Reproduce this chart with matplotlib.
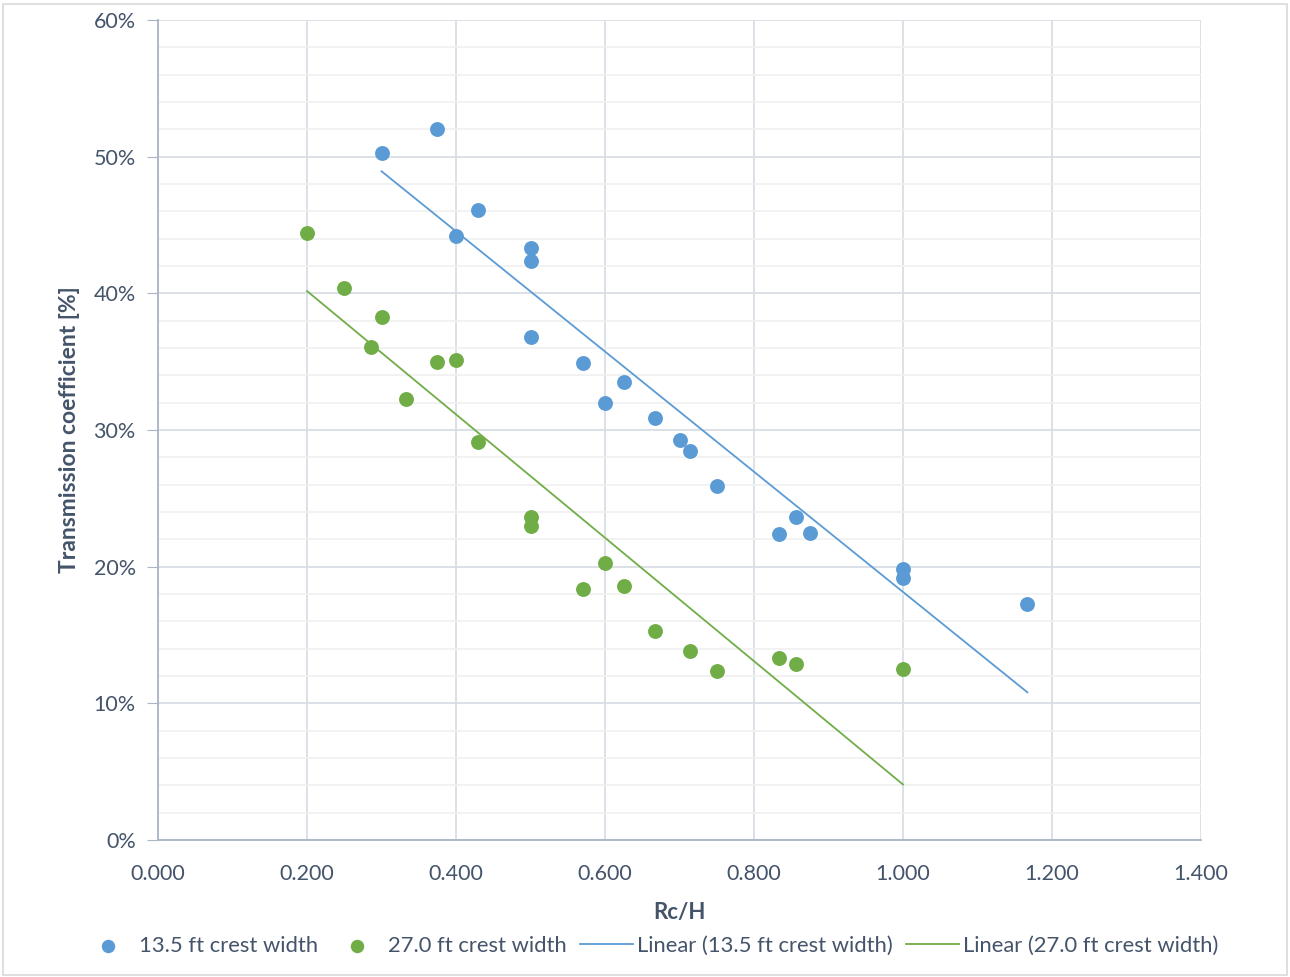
import numpy as np
import matplotlib
matplotlib.use("Agg")
import matplotlib.pyplot as plt
from matplotlib.ticker import MultipleLocator, FuncFormatter

plt.rcParams["font.family"] = ["Lato", "DejaVu Sans"]

# --- data ---
rc_h_135 = [0.300, 0.375, 0.429, 0.400, 0.500, 0.500, 0.500, 0.571, 0.625, 0.600,
            0.667, 0.700, 0.714, 0.750, 0.833, 0.857, 0.875, 1.000, 1.000, 1.167]
kt_135 = [50.3, 52.0, 46.1, 44.2, 43.3, 42.4, 36.8, 34.9, 33.5, 32.0,
          30.9, 29.3, 28.5, 25.9, 22.4, 23.6, 22.5, 19.8, 19.2, 17.3]

rc_h_270 = [0.200, 0.250, 0.300, 0.286, 0.375, 0.400, 0.333, 0.429, 0.500, 0.500,
            0.600, 0.571, 0.625, 0.667, 0.714, 0.750, 0.833, 0.857, 1.000]
kt_270 = [44.4, 40.4, 38.3, 36.1, 35.0, 35.1, 32.3, 29.1, 23.6, 23.0,
          20.3, 18.4, 18.6, 15.3, 13.8, 12.4, 13.3, 12.9, 12.5]

BLUE = "#5B9BD5"
GREEN = "#70AD47"
TEXT = "#44546A"

fig = plt.figure(figsize=(12.9, 9.77), dpi=100)
ax = fig.add_axes([0.1225, 0.1402, 0.8085, 0.8393])

series = [
    (rc_h_135, kt_135, BLUE, "13.5 ft crest width"),
    (rc_h_270, kt_270, GREEN, "27.0 ft crest width"),
]
handles_pts, handles_fit = [], []
for x, y, c, lab in series:
    x = np.array(x)
    y = np.array(y)
    h = ax.scatter(x, y, s=115, color=c, zorder=3, label=lab, linewidths=0)
    handles_pts.append(h)
    # Excel-style linear trendline
    k, b = np.polyfit(x, y, 1)
    xs = np.array([x.min(), x.max()])
    (ln,) = ax.plot(xs, k * xs + b, color=c, lw=1.3, zorder=2, label=f"Linear ({lab})")
    handles_fit.append(ln)

ax.set_xlim(0, 1.4)
ax.set_ylim(0, 60)
ax.xaxis.set_major_locator(MultipleLocator(0.2))
ax.yaxis.set_major_locator(MultipleLocator(10))
ax.yaxis.set_minor_locator(MultipleLocator(2))
ax.xaxis.set_major_formatter(FuncFormatter(lambda v, p: f"{v:.3f}"))
ax.yaxis.set_major_formatter(FuncFormatter(lambda v, p: f"{v:.0f}%"))

ax.grid(which="major", color="#D9DEE6", lw=1.3)
ax.grid(which="minor", axis="y", color="#F0F0F0", lw=1.2)
ax.set_axisbelow(True)
for s in ["top", "right"]:
    ax.spines[s].set_visible(False)
for s in ["left", "bottom"]:
    ax.spines[s].set_color("#A9B4C6")
    ax.spines[s].set_linewidth(1.3)
ax.tick_params(axis="y", which="major", length=8, color="#A9B4C6", labelsize=15.5,
               labelcolor=TEXT, pad=8)
ax.tick_params(axis="y", which="minor", length=0)
ax.tick_params(axis="x", length=0, labelsize=15.5, labelcolor=TEXT, pad=17)

ax.set_xlabel("Rc/H", fontsize=16, fontweight="bold", color=TEXT, labelpad=13)
ax.set_ylabel("Transmission coefficient [%]", fontsize=16.5, fontweight="bold",
              color=TEXT, labelpad=10)

fig.legend(handles=handles_pts + handles_fit,
           labels=[h.get_label() for h in handles_pts + handles_fit],
           loc="center", bbox_to_anchor=(0.504, 0.032), ncol=4, frameon=False,
           fontsize=15.8, labelcolor=TEXT, handlelength=2.4, handletextpad=0.2,
           columnspacing=0.6, markerscale=0.9)

fig.patches.append(plt.Rectangle((0.002, 0.002), 0.996, 0.994, transform=fig.transFigure,
                                 fill=False, edgecolor="#D9D9D9", lw=1.2))

fig.savefig("out.png", dpi=100)
